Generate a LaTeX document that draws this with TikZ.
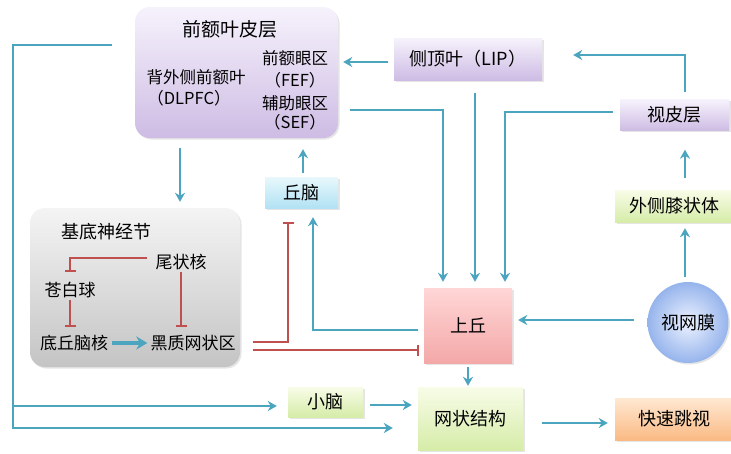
\documentclass[tikz,border=0pt]{standalone}
\usepackage{fontspec}
\setmainfont{Noto Sans CJK SC}
\usetikzlibrary{arrows.meta,shadows}
\definecolor{lb}{RGB}{75,165,190}
\definecolor{rd}{RGB}{192,80,80}
\definecolor{pTop}{RGB}{246,242,252}
\definecolor{pBot}{RGB}{206,188,228}
\definecolor{gTop}{RGB}{248,252,232}
\definecolor{gBot}{RGB}{214,236,168}
\definecolor{kTop}{RGB}{255,214,214}
\definecolor{kBot}{RGB}{244,168,168}
\definecolor{oTop}{RGB}{255,232,210}
\definecolor{oBot}{RGB}{250,186,132}
\definecolor{cTop}{RGB}{232,248,252}
\definecolor{cBot}{RGB}{178,226,244}
\definecolor{sTop}{RGB}{244,244,244}
\definecolor{sBot}{RGB}{196,196,196}
\definecolor{bIn}{RGB}{236,242,255}
\definecolor{bOut}{RGB}{150,180,236}
\begin{document}
\begin{tikzpicture}[x=1pt,y=-1pt,
  box/.style={inner sep=0pt, font=\fontsize{18}{20}\selectfont,
    drop shadow={opacity=0.2,shadow xshift=1.5pt,shadow yshift=-1.5pt}},
  purp/.style={box, top color=pTop, bottom color=pBot},
  grn/.style={box, top color=gTop, bottom color=gBot},
  txt/.style={inner sep=2pt, font=\fontsize{17}{20}\selectfont},
  arr/.style={draw=lb, line width=2.4pt, -{Stealth[length=9pt,width=10pt]}},
  inh/.style={draw=rd, line width=2.2pt, -{Bar[width=11pt]}},
]
\useasboundingbox (0,0) rectangle (731,453);
\fill[white] (0,0) rectangle (731,453);

% boxes
\node[purp, rounded corners=15pt, minimum width=203pt, minimum height=131pt] (pfc) at (236.5,72.5) {};
\node[txt, font=\fontsize{19}{22}\selectfont] (pfct) at (230,29) {前额叶皮层};
\node[txt, font=\fontsize{16.5}{20}\selectfont] (dl1) at (196,77) {背外侧前额叶};
\node[txt, font=\fontsize{16.5}{20}\selectfont] (dl2) at (189,98) {（DLPFC）};
\node[txt, font=\fontsize{16.5}{20}\selectfont] (fef1) at (295,58) {前额眼区};
\node[txt, font=\fontsize{16.5}{20}\selectfont] (fef2) at (295,80) {（FEF）};
\node[txt, font=\fontsize{16.5}{20}\selectfont] (sef1) at (295,103) {辅助眼区};
\node[txt, font=\fontsize{16.5}{20}\selectfont] (sef2) at (295,122) {（SEF）};

\node[purp, minimum width=148pt, minimum height=42pt] (lip) at (468,59) {侧顶叶（LIP）};
\node[purp, minimum width=109pt, minimum height=31pt] (vc) at (674.5,115) {视皮层};
\node[grn, minimum width=118pt, minimum height=32pt] (lgn) at (674,206) {外侧膝状体};
\node[box, circle, minimum size=81pt, inner color=bIn, outer color=bOut] (ret) at (688,322.5) {视网膜};
\node[box, top color=kTop, bottom color=kBot, minimum width=88pt, minimum height=75pt] (sc) at (468,325.5) {上丘};
\node[grn, minimum width=105pt, minimum height=63pt] (rf) at (470.5,418.5) {网状结构};
\node[box, top color=oTop, bottom color=oBot, minimum width=118pt, minimum height=42pt] (sac) at (674,419) {快速跳视};
\node[grn, minimum width=75pt, minimum height=30pt] (cb) at (325.5,402) {小脑};
\node[box, top color=cTop, bottom color=cBot, minimum width=73pt, minimum height=31pt] (thal) at (301.5,192.5) {丘脑};

\node[box, rounded corners=15pt, top color=sTop, bottom color=sBot, minimum width=210pt, minimum height=159pt] (bg) at (135,287.5) {};
\node[txt, font=\fontsize{18}{20}\selectfont] (bgt) at (106,232) {基底神经节};
\node[txt] (cd) at (181,262) {尾状核};
\node[txt] (gp) at (70,290) {苍白球};
\node[txt] (stn) at (74,343) {底丘脑核};
\node[txt] (snr) at (193,343) {黑质网状区};

% basal ganglia internal
\draw[inh, shorten <=6pt, shorten >=8pt] ([yshift=4pt]cd.west) -| (gp.north);
\draw[inh, shorten >=6pt] (gp.south) -- (gp.south |- stn.north);
\draw[inh, shorten >=6pt] (cd.south) -- (cd.south |- snr.north);
\draw[draw=lb, line width=3.6pt, -{Stealth[length=11pt,width=13pt]}, shorten <=2pt, shorten >=1pt] (stn.east) -- (snr.west);

% red from SNr
\draw[inh, shorten <=15pt, shorten >=14pt] (snr.east |- 0,342) -- (288,342) -- (thal.south -| 288,0);
\draw[inh, shorten <=15pt, shorten >=5pt] (snr.east |- 0,350) -- (sc.west |- 0,350);

% blue connectors
\draw[arr, shorten <=6pt, shorten >=5pt] (lip.west |- 0,62) -- (pfc.east |- 0,62);
\draw[arr, shorten <=12pt, shorten >=6pt] (pfc.east |- 0,110) -- (443,110) -- (sc.north -| 443,0);
\draw[arr, shorten <=13pt, shorten >=6pt] (lip.south -| 475,0) -- (sc.north -| 475,0);
\draw[arr, shorten <=7pt, shorten >=6pt] (vc.west |- 0,112) -- (505,112) -- (sc.north -| 505,0);
\draw[arr, shorten <=7pt, shorten >=31pt] (vc.north -| 685,0) -- (685,55) -- (lip.east |- 0,55);
\draw[arr, shorten <=12pt, shorten >=19pt] (lgn.north -| 685,0) -- (vc.south -| 685,0);
\draw[arr, shorten <=5pt, shorten >=6pt] (ret.north -| 685,0) -- (lgn.south -| 685,0);
\draw[arr, shorten <=13pt, shorten >=6pt] (ret.west |- 0,320) -- (sc.east |- 0,320);
\draw[arr, shorten <=4pt, shorten >=1pt] (sc.south) -- (rf.north -| sc.south);
\draw[arr, shorten <=19pt, shorten >=7pt] (rf.east |- 0,423) -- (sac.west |- 0,423);
\draw[arr, shorten <=7pt, shorten >=6pt] (cb.east |- 0,405) -- (rf.west |- 0,405);
\draw[arr, shorten <=10pt, shorten >=6pt] (pfc.south -| 180,0) -- (bg.north -| 180,0);
\draw[arr, shorten <=4pt, shorten >=11pt] (thal.north -| 303,0) -- (pfc.south -| 303,0);
\draw[arr, shorten <=6pt, shorten >=9pt] (sc.west |- 0,330) -- (313,330) -- (thal.south -| 313,0);
\coordinate (jn) at (13,406);
\draw[arr, shorten <=23pt, shorten >=25pt] (pfc.west |- 0,45) -- (13,45) -- (13,428) -- (rf.west |- 0,428);
\draw[arr, shorten >=11pt] (jn) -- (cb.west |- 0,406);
\end{tikzpicture}
\end{document}
